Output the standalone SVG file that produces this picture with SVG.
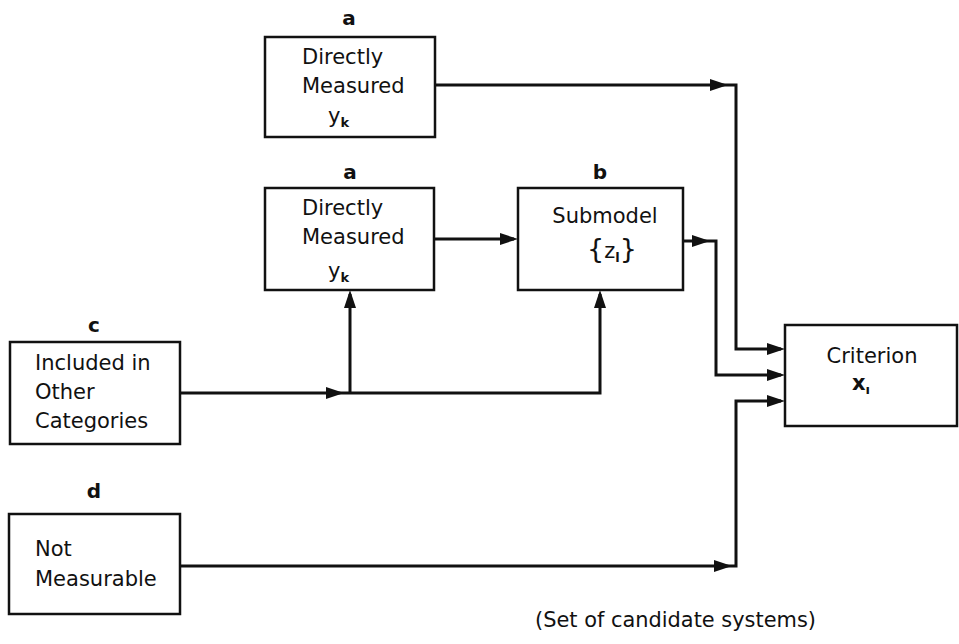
<svg xmlns="http://www.w3.org/2000/svg" width="959" height="644" viewBox="0 0 959 644">
<style>
.box{fill:#fff;stroke:#111;stroke-width:2.5}
.t{font-family:"DejaVu Sans","Liberation Sans",Arial,sans-serif;font-size:21px;fill:#111}
.c{text-anchor:middle}
.lab{font-family:"DejaVu Sans","Liberation Sans",Arial,sans-serif;font-size:20px;font-weight:bold;fill:#111;text-anchor:middle}
.sub{font-size:13px;font-weight:bold}
.ln{fill:none;stroke:#111;stroke-width:3;stroke-linejoin:miter}
</style>
<defs>
<marker id="ah" markerUnits="userSpaceOnUse" markerWidth="18" markerHeight="12" refX="14" refY="6" orient="auto">
<path d="M0,0 L18,6 L0,12 z" fill="#111"/>
</marker>
</defs>
<rect width="959" height="644" fill="#fff"/>
<g id="connectors">
<path class="ln" d="M435,85 H724" marker-end="url(#ah)"/>
<path class="ln" d="M724,85 H736 V349 H781" marker-end="url(#ah)"/>
<path class="ln" d="M434,239 H514" marker-end="url(#ah)"/>
<path class="ln" d="M683,241 H706" marker-end="url(#ah)"/>
<path class="ln" d="M706,241 H716 V375 H781" marker-end="url(#ah)"/>
<path class="ln" d="M180,393 H340" marker-end="url(#ah)"/>
<path class="ln" d="M350,393 V294" marker-end="url(#ah)"/>
<path class="ln" d="M340,393 H600 V294" marker-end="url(#ah)"/>
<path class="ln" d="M180,566 H728" marker-end="url(#ah)"/>
<path class="ln" d="M728,566 H736 V401 H781" marker-end="url(#ah)"/>
</g>
<g id="node-a1">
<text class="lab" x="349" y="25">a</text>
<rect class="box" x="265" y="37" width="170" height="100"/>
<text class="t" x="302" y="64">Directly</text>
<text class="t" x="302" y="93">Measured</text>
<text class="t" x="328" y="123" font-size="22">y<tspan class="sub" dy="4">k</tspan></text>
</g>
<g id="node-a2">
<text class="lab" x="350" y="179">a</text>
<rect class="box" x="265" y="188" width="169" height="102"/>
<text class="t" x="302" y="215">Directly</text>
<text class="t" x="302" y="244">Measured</text>
<text class="t" x="328" y="278" font-size="22">y<tspan class="sub" dy="4">k</tspan></text>
</g>
<g id="node-b">
<text class="lab" x="600" y="179">b</text>
<rect class="box" x="518" y="188" width="165" height="102"/>
<text class="t c" x="605" y="223">Submodel</text>
<text class="t" x="587" y="258"><tspan font-size="27">{</tspan>z<tspan class="sub" dy="4">l</tspan><tspan dy="-4" font-size="27">}</tspan></text>
</g>
<g id="node-c">
<text class="lab" x="94" y="332">c</text>
<rect class="box" x="10" y="342" width="170" height="102"/>
<text class="t" x="35" y="370">Included in</text>
<text class="t" x="35" y="399">Other</text>
<text class="t" x="35" y="428">Categories</text>
</g>
<g id="node-d">
<text class="lab" x="94" y="498">d</text>
<rect class="box" x="9" y="514" width="171" height="100"/>
<text class="t" x="35" y="556">Not</text>
<text class="t" x="35" y="586">Measurable</text>
</g>
<g id="node-criterion">
<rect class="box" x="785" y="325" width="172" height="101"/>
<text class="t c" x="872" y="363" font-size="22">Criterion</text>
<text class="t" x="852" y="390" font-weight="bold">x<tspan class="sub" dy="4">ı</tspan></text>
</g>
<text class="t" x="535" y="627" font-size="18" textLength="281" lengthAdjust="spacingAndGlyphs">(Set of candidate systems)</text>
</svg>
